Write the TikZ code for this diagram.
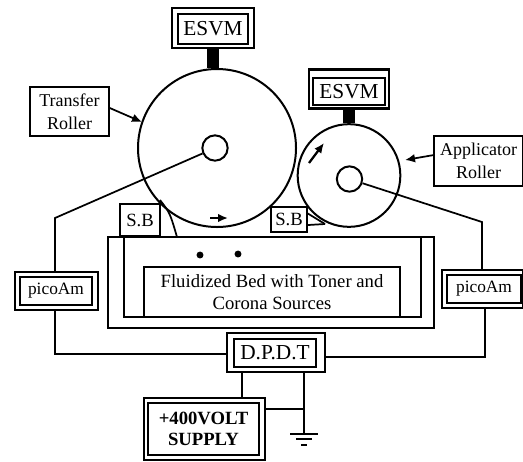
\documentclass[tikz,border=0pt]{standalone}
\usepackage{fontspec}
\setmainfont{Liberation Serif}
\usetikzlibrary{arrows.meta}
\tikzset{
    roller/.style={circle, draw, line width=1.5pt, inner sep=0pt},
    outerbox/.style={draw, line width=1.7pt, inner sep=0pt},
    innerbox/.style={draw, line width=1.3pt, inner sep=0pt, align=center},
    labelbox/.style={draw, line width=1.4pt, inner sep=0pt, align=center, font=\fontsize{13.5}{17}\selectfont},
    wire/.style={line width=1.3pt}
}
\begin{document}
\begin{tikzpicture}[x=0.75pt, y=-0.75pt, >={Latex[length=7.5pt,width=6.5pt]}]
            \useasboundingbox (0,0) rectangle (523,461);

            % rollers
            \node[roller, minimum size=118.5pt] (rollerT) at (217,148) {};
            \node[roller, minimum size=19pt] (hubT) at (215,148) {};
            \node[roller, minimum size=77pt] (rollerA) at (349,175.5) {};
            \node[roller, minimum size=19pt] (hubA) at (349.5,179) {};

            % electrostatic voltmeters
            \node[outerbox, minimum width=61.5pt, minimum height=30pt] (esvmT) at (213,28) {};
            \node[innerbox, minimum width=52.5pt, minimum height=22pt, font=\fontsize{16}{18}\selectfont] (esvmTtext) at (213,29) {ESVM};
            \node[outerbox, line width=2pt, minimum width=60pt, minimum height=29pt] (esvmA) at (349,89) {};
            \node[innerbox, minimum width=54pt, minimum height=20pt, font=\fontsize{16}{18}\selectfont] (esvmAtext) at (349,91.5) {ESVM};
            \draw[line width=9.5pt] (esvmT.south) -- (esvmT.south |- rollerT.north);
            \draw[line width=9pt] (esvmA.south) -- (esvmA.south |- rollerA.north);

            % labels
            \node[labelbox, minimum width=59pt, minimum height=37pt] (labelT) at (69.5,111.5) {Transfer\\Roller};
            \node[labelbox, minimum width=67pt, minimum height=37.5pt] (labelA) at (478.5,161) {Applicator\\Roller};
            \coordinate (tipT) at (142,122);
            \coordinate (tipA) at (405,160);
            \coordinate (tailA) at (434,155);
            \draw[->, wire] (labelT.east |- 0,108) -- (tipT);
            \draw[->, wire] (tailA) -- (tipA);

            % rotation arrows
            \coordinate (spinAa) at (309,163);
            \coordinate (spinAb) at (324,143);
            \coordinate (spinTa) at (210,218);
            \coordinate (spinTb) at (228,218);
            \draw[->, line width=1.7pt] (spinAa) -- (spinAb);
            \draw[->, line width=1.5pt] (spinTa) -- (spinTb);

            % fluidized bed
            \node[outerbox, minimum width=244.5pt, minimum height=68pt] (bed) at (271,282.5) {};
            \node[outerbox, minimum width=223pt, minimum height=60pt] (bedin) at (272.5,277) {};
            \node[innerbox, line width=1.7pt, minimum width=192pt, minimum height=37.5pt, fill=white,
                font=\fontsize{14}{17}\selectfont] (bedtext) at (272,292) {Fluidized Bed with Toner and\\Corona Sources};
            \fill (200,255) circle (2.6pt);
            \fill (238,254) circle (2.6pt);

            % blades
            \node[labelbox, fill=white, line width=1.7pt, minimum width=30pt, minimum height=24pt, font=\fontsize{14}{15}\selectfont] (sbT) at (140,220) {S.B};
            \node[labelbox, fill=white, line width=1.7pt, minimum width=27pt, minimum height=19pt, font=\fontsize{14}{15}\selectfont] (sbA) at (289,219.5) {S.B};
            \coordinate (bladeT) at (177,237);
            \coordinate (bladeA) at (325,224);
            \coordinate (bladeB) at (307,213);
            \coordinate (bladeC) at (160,200);
            \draw[wire] (bladeC) .. controls (170,213) .. (bladeT);
            \draw[wire] (sbA.east |- bladeA) ++(0,1) -- (bladeA);
            \draw[wire] (bladeB) -- (bladeA);

            % picoammeters and switch
            \node[outerbox, minimum width=62pt, minimum height=28.5pt] (picoL) at (56.5,291) {};
            \node[innerbox, minimum width=54pt, minimum height=21pt, font=\fontsize{13}{16}\selectfont] (picoLtext) at (56,291) {picoAm};
            \node[outerbox, minimum width=60.5pt, minimum height=28.5pt] (picoR) at (482.5,289) {};
            \node[innerbox, minimum width=55pt, minimum height=21pt, font=\fontsize{13}{16}\selectfont] (picoRtext) at (484,289) {picoAm};
            \node[outerbox, minimum width=73.5pt, minimum height=29pt] (dpdt) at (276,352.5) {};
            \node[innerbox, minimum width=61.5pt, minimum height=21pt, font=\fontsize{16}{19}\selectfont] (dpdttext) at (275,353) {D.P.D.T};

            % supply
            \node[outerbox, minimum width=90.5pt, minimum height=46.5pt] (supply) at (204.5,429) {};
            \node[innerbox, minimum width=83pt, minimum height=39pt, font=\bfseries\fontsize{14}{16}\selectfont] (supplytext) at (203.5,429) {+400VOLT\\SUPPLY};

            % wiring
            \coordinate (kneeL) at (55,218);
            \coordinate (kneeR) at (482,222);
            \coordinate (feedL) at (55,354);
            \coordinate (feedR) at (485,357);
            \coordinate (tapA) at (242,372);
            \coordinate (tapB) at (304,372);
            \coordinate (gnd) at (304,434);
            \draw[wire] (hubT) -- (kneeL) -- (kneeL |- picoL.north);
            \draw[wire] (hubA) -- (kneeR) -- (kneeR |- picoR.north);
            \draw[wire] (kneeL |- picoL.south) -- (feedL) -- (feedL -| dpdt.west);
            \draw[wire] (feedR |- picoR.south) -- (feedR) -- (feedR -| dpdt.east);
            \draw[wire] (tapA) -- (tapA |- supply.north);
            \draw[line width=1.8pt] (tapB) -- (gnd);
            \draw[wire] (supply.east |- 0,409) -- (tapB |- 0,409);

            % ground
            \draw[wire] (gnd) ++(-14,0) -- ++(28,0);
            \draw[line width=1pt] (gnd) ++(-8,5) -- ++(16,0);
            \draw[line width=1pt] (gnd) ++(-3,11) -- ++(6,0);
        \end{tikzpicture}
\end{document}
